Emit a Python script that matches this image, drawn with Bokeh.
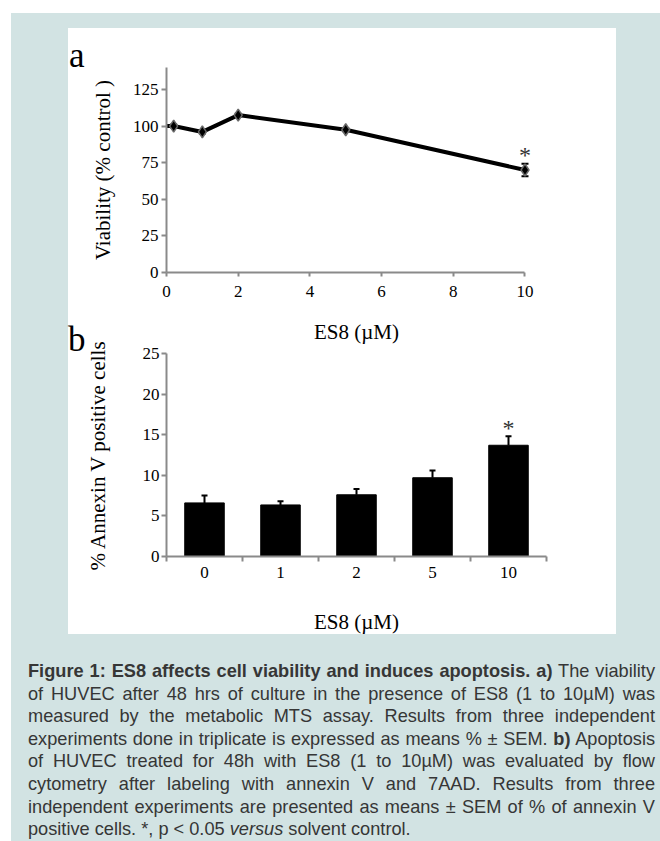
import numpy as np
from bokeh.plotting import figure
from bokeh.models import (ColumnDataSource, FixedTicker, Whisker, TeeHead, Div,
                          GlobalInlineStyleSheet)
from bokeh.layouts import column
from bokeh.core.properties import value
from bokeh.embed import file_html
from bokeh.resources import INLINE

# ---------------- data: panel a (viability, MTS) ----------------
conc_a = [0, 0.2, 1, 2, 5, 10]
viability = [100, 100, 96, 107.5, 97.5, 70]
viability_sem = [0, 1.0, 1.0, 1.0, 1.0, 4.3]
marker_shown = [False, True, True, True, True, True]
sig_a = [False, False, False, False, False, True]
x_ticks_a = [0, 2, 4, 6, 8, 10]
y_ticks_a = [0, 25, 50, 75, 100, 125]

# ---------------- data: panel b (annexin V) ----------------
conc_b = ["0", "1", "2", "5", "10"]
annexin = [6.6, 6.35, 7.6, 9.7, 13.7]
annexin_sem = [0.9, 0.45, 0.7, 0.9, 1.1]
sig_b = [False, False, False, False, True]
y_ticks_b = [0, 5, 10, 15, 20, 25]

SERIF = "Liberation Serif"
AXIS_GREY = "#8a8a8a"
TEAL = "#d2e3e3"


def style_axes(p):
    p.grid.visible = False
    p.outline_line_color = None
    p.border_fill_alpha = 0
    p.background_fill_color = "white"
    for ax in p.axis:
        ax.axis_line_color = AXIS_GREY
        ax.axis_line_width = 2
        ax.major_tick_line_color = AXIS_GREY
        ax.major_tick_line_width = 2
        ax.minor_tick_line_color = None
        ax.major_tick_in = 0
        ax.major_label_text_font = SERIF
        ax.major_label_text_font_size = "17px"
        ax.major_label_text_color = "black"
        ax.axis_label_text_font = SERIF
        ax.axis_label_text_font_size = "21px"
        ax.axis_label_text_font_style = "normal"
        ax.axis_label_text_color = "black"


def letter(txt, top, bottom, left):
    html = (f'<div style="font-family:\'Liberation Serif\',serif;font-size:35px;'
            f'line-height:40px;color:black;">{txt}</div>')
    return Div(text=html, width=30, height=40, margin=(top, 0, bottom, left))


# ---------------- figure a ----------------
pa = figure(width=548, height=320, x_range=(0, 10.6), y_range=(0, 140),
            output_backend="svg", toolbar_location=None, title=None,
            min_border_left=98, min_border_right=70, min_border_top=39, min_border_bottom=76)
style_axes(pa)
pa.xaxis.ticker = FixedTicker(ticks=x_ticks_a)
pa.xaxis.bounds = (x_ticks_a[0], x_ticks_a[-1])
pa.yaxis.ticker = FixedTicker(ticks=y_ticks_a)
pa.xaxis.major_tick_out = 4
pa.xaxis.major_label_standoff = 9
pa.yaxis.major_tick_out = 5
pa.yaxis.major_label_standoff = 3
pa.xaxis.axis_label = "ES8 (µM)"
pa.yaxis.axis_label = "Viability (% control )"
pa.xaxis.axis_label_standoff = 20
pa.yaxis.axis_label_standoff = 15

pa.line(conc_a, viability, line_color="black", line_width=4)

mx = [c for c, m in zip(conc_a, marker_shown) if m]
my = [v for v, m in zip(viability, marker_shown) if m]
me = [e for e, m in zip(viability_sem, marker_shown) if m]
wa = ColumnDataSource(dict(x=mx, up=[v + e for v, e in zip(my, me)], lo=[v - e for v, e in zip(my, me)]))
whisk_a = Whisker(base="x", upper="up", lower="lo", source=wa, dimension="height",
                  line_color="black", line_width=2, level="underlay",
                  upper_head=TeeHead(size=7, line_color="black", line_width=2),
                  lower_head=TeeHead(size=7, line_color="black", line_width=2))
pa.add_layout(whisk_a)
pa.scatter(mx, my, marker="diamond", size=12, fill_color="black",
           line_color="#6a6a6a", line_width=1.5)

sa = ColumnDataSource(dict(
    x=[c for c, s in zip(conc_a, sig_a) if s],
    y=[v + e for v, e, s in zip(viability, viability_sem, sig_a) if s],
    t=["*" for s in sig_a if s]))
pa.text(x="x", y="y", text="t", source=sa, text_align="center", text_baseline="middle",
        y_offset=-9, text_font=value(SERIF), text_font_size="24px", text_color="#333333")

# ---------------- figure b ----------------
xpos_b = [i + 0.5 for i in range(len(conc_b))]
pb = figure(width=548, height=309, x_range=(0, len(conc_b)), y_range=(0, 25),
            output_backend="svg", toolbar_location=None, title=None,
            min_border_left=97, min_border_right=69, min_border_top=24, min_border_bottom=82,
            margin=(-19, 0, -4, 0))
style_axes(pb)
pb.xaxis.ticker = FixedTicker(ticks=xpos_b, minor_ticks=list(range(len(conc_b) + 1)))
pb.xaxis.major_label_overrides = {x: c for x, c in zip(xpos_b, conc_b)}
pb.xaxis.major_tick_out = 5
pb.xaxis.major_tick_line_color = None
pb.xaxis.minor_tick_out = 5
pb.xaxis.minor_tick_in = 0
pb.xaxis.minor_tick_line_color = AXIS_GREY
pb.xaxis.minor_tick_line_width = 2
pb.xaxis.major_label_standoff = 5
pb.yaxis.ticker = FixedTicker(ticks=y_ticks_b)
pb.yaxis.major_tick_out = 5
pb.yaxis.major_label_standoff = 2
pb.xaxis.axis_label = "ES8 (µM)"
pb.yaxis.axis_label = "% Annexin V positive cells"
pb.xaxis.axis_label_standoff = 29
pb.yaxis.axis_label_standoff = 30

pb.vbar(x=xpos_b, top=annexin, width=0.52, fill_color="black", line_color="black")
wb = ColumnDataSource(dict(x=xpos_b, up=[v + e for v, e in zip(annexin, annexin_sem)], lo=annexin))
whisk_b = Whisker(base="x", upper="up", lower="lo", source=wb, dimension="height",
                  line_color="black", line_width=2,
                  upper_head=TeeHead(size=6, line_color="black", line_width=2), lower_head=None)
pb.add_layout(whisk_b)
sb = ColumnDataSource(dict(
    x=[x for x, s in zip(xpos_b, sig_b) if s],
    y=[v + e for v, e, s in zip(annexin, annexin_sem, sig_b) if s],
    t=["*" for s in sig_b if s]))
pb.text(x="x", y="y", text="t", source=sb, text_align="center", text_baseline="middle",
        y_offset=-8, text_font=value(SERIF), text_font_size="24px", text_color="#333333")

# ---------------- panel letters (zero net height, overlaid by the transparent canvases) ----------------
letter_a = letter("a", 8, -48, 1)
letter_b = letter("b", -28, -12, 0)

# ---------------- caption ----------------
caption_lines = [
    "<b>Figure 1: ES8 affects cell viability and induces apoptosis. a)</b> The viability",
    "of HUVEC after 48 hrs of culture in the presence of ES8 (1 to 10µM) was",
    "measured by the metabolic MTS assay. Results from three independent",
    "experiments done in triplicate is expressed as means % ± SEM. <b>b)</b> Apoptosis",
    "of HUVEC treated for 48h with ES8 (1 to 10µM) was evaluated by flow",
    "cytometry after labeling with annexin V and 7AAD. Results from three",
    "independent experiments are presented as means ± SEM of % of annexin V",
    "positive cells. *, p &lt; 0.05 <i>versus</i> solvent control.",
]
rows = []
for i, ln in enumerate(caption_lines):
    last = i == len(caption_lines) - 1
    al = "left" if last else "justify"
    rows.append(f'<div style="text-align:{al};text-align-last:{al};white-space:nowrap;">{ln}</div>')
cap_html = ('<div style="font-family:\'Liberation Sans\',Arial,sans-serif;font-size:18.2px;'
            'line-height:22.6px;color:#363636;width:627px;">' + "".join(rows) + "</div>")
caption = Div(text=cap_html, width=627, height=181, margin=(26, 0, 0, 17))

panel = column(letter_a, pa, letter_b, pb, styles={"background-color": "white"},
               margin=(15, 0, 0, 57))
root = column(panel, caption, width=649, height=828, margin=(13, 0, 0, 11),
              styles={"background-color": TEAL},
              stylesheets=[GlobalInlineStyleSheet(css="html, body { overflow: hidden; }")])

open("out.html", "w").write(file_html(root, INLINE))
